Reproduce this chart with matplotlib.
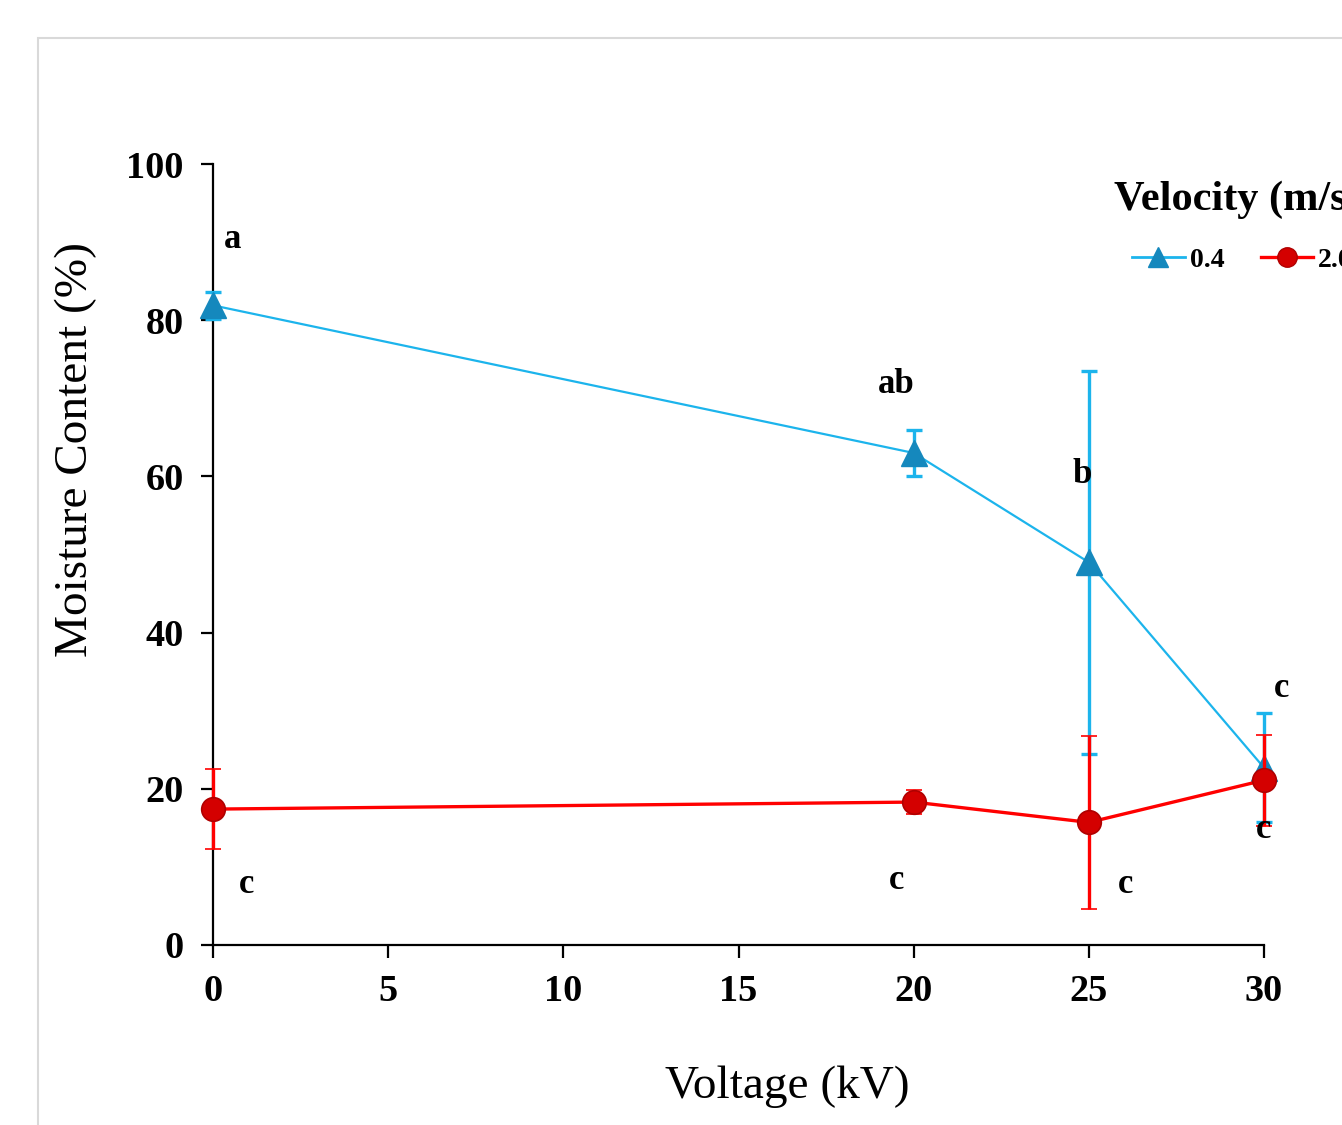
import matplotlib.pyplot as plt
from matplotlib.lines import Line2D
from matplotlib.patches import Rectangle

# ----- data -----
voltage = [0, 20, 25, 30]

v04_mean = [81.9, 63.0, 49.0, 22.7]
v04_err = [1.7, 2.9, 24.5, 7.0]
v04_letters = ["a", "ab", "b", "c"]

v2_mean = [17.4, 18.3, 15.7, 21.1]
v2_err = [5.1, 1.5, 11.1, 5.8]
v2_letters = ["c", "c", "c", "c"]

series_labels = ["0.4", "2.0"]

# letter label positions (data coords)
v04_letter_xy = [(0.55, 90.3), (19.5, 71.8), (24.8, 60.2), (30.5, 32.9)]
v2_letter_xy = [(0.95, 7.7), (19.5, 8.2), (26.05, 7.7), (30.0, 14.8)]

BLUE = "#1cb4ec"
BLUE_M = "#1588bd"
RED = "#ff0000"
RED_M = "#d40000"

plt.rcParams["font.family"] = ["Liberation Serif", "DejaVu Serif"]

fig = plt.figure(figsize=(13.42, 11.25), dpi=100)
fig.patches.append(Rectangle((38 / 1342, -0.2), 2.0, 1.2 - 38 / 1125,
                             transform=fig.transFigure, fill=False,
                             edgecolor="#d9d9d9", lw=1.5))

ax = fig.add_axes([213 / 1342, 1 - 945 / 1125, (1264 - 213) / 1342,
                   (945 - 164) / 1125])

blue = ax.errorbar(voltage, v04_mean, yerr=v04_err, color=BLUE, lw=1.6,
                   marker="^", ms=19, mfc=BLUE_M, mec=BLUE_M,
                   ecolor=BLUE, elinewidth=2.4, capsize=6, capthick=2.4,
                   zorder=3)
red = ax.errorbar(voltage, v2_mean, yerr=v2_err, color=RED, lw=2.4,
                  marker="o", ms=17, mfc=RED_M, mec="#b00000", mew=1.2,
                  ecolor=RED, elinewidth=2.4, capsize=6, capthick=2.4,
                  zorder=4)
for cont in (blue, red):
    for art in cont.get_children():
        art.set_clip_on(False)

for (x, y), t in zip(v04_letter_xy, v04_letters):
    ax.text(x, y, t, ha="center", va="center", fontsize=25,
            fontweight="bold")
for (x, y), t in zip(v2_letter_xy, v2_letters):
    ax.text(x, y, t, ha="center", va="center", fontsize=25,
            fontweight="bold", zorder=5)

ax.set_xlim(0, 30)
ax.set_ylim(0, 100)
ax.set_xticks([0, 5, 10, 15, 20, 25, 30])
ax.set_yticks([0, 20, 40, 60, 80, 100])
for s in ["top", "right"]:
    ax.spines[s].set_visible(False)
for s in ["left", "bottom"]:
    ax.spines[s].set_linewidth(1.6)
ax.tick_params(direction="out", length=9, width=1.6, labelsize=27.5, pad=12)
for lab in ax.get_xticklabels() + ax.get_yticklabels():
    lab.set_fontweight("bold")

ax.set_xlabel("Voltage (kV)", fontsize=34)
ax.set_ylabel("Moisture Content (%)", fontsize=34)
ax.xaxis.set_label_coords((787 - 213) / 1051, -(1066 - 945) / 781)
ax.yaxis.set_label_coords(-(213 - 97) / 1051, (945 - 450) / 781)

fig.text(1114 / 1342, 1 - 200 / 1125, "Velocity (m/s)", fontsize=30.5,
         fontweight="bold", va="center", ha="left")

handles = [
    Line2D([], [], color=BLUE, lw=2, marker="^", ms=14, mfc=BLUE_M,
           mec=BLUE_M),
    Line2D([], [], color=RED, lw=2.4, marker="o", ms=14, mfc=RED_M,
           mec="#b00000"),
]
fig.legend(handles, series_labels, loc="center left",
           bbox_to_anchor=(1132 / 1342, 1 - 260 / 1125),
           ncol=2, frameon=False, borderpad=0, borderaxespad=0,
           prop={"size": 20, "weight": "bold"},
           handlelength=1.9, columnspacing=1.3, handletextpad=0.18)

fig.savefig("out.png", dpi=100)
